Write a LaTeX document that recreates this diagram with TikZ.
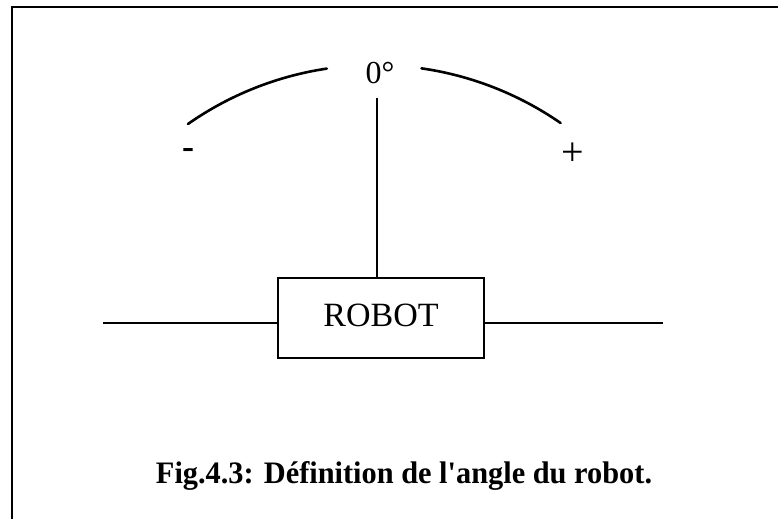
\documentclass[tikz,border=0pt]{standalone}
\usepackage{fontspec}
\setmainfont{Liberation Serif}
\newfontfamily\capfont{Liberation Serif}[Ligatures=TeXOff]
\usepackage{graphicx}
\begin{document}
\begin{tikzpicture}[x=1pt,y=-1pt,
  line/.style={line width=1.8pt},
  arcline/.style={line width=2.6pt,line cap=round},
  txt/.style={inner sep=0pt,anchor=base},
  robotbox/.style={draw,line width=1.8pt,minimum width=206pt,minimum height=80pt,inner sep=0pt}]
\useasboundingbox (0,0) rectangle (778,519);
% frame
\coordinate (fb) at (12,519);
\coordinate (fc) at (12,7);
\coordinate (fr) at (778,7);
\draw[line width=2pt] (fb) -- (fc) -- (fr);
% robot box
\node[robotbox] (robot) at (381,318) {};
\node[txt,font=\fontsize{34}{40}\selectfont] (rtext) at (381,326) {ROBOT};
% side lines
\coordinate (lA) at (103,323);
\coordinate (rA) at (663,323);
\draw[line] (lA) -- (robot.west |- lA);
\draw[line] (robot.east |- rA) -- (rA);
% vertical line
\coordinate (vt) at (377,98);
\draw[line] (vt) -- (vt |- robot.north);
% arcs (center 375,391, r 326)
\coordinate (c) at (375,391);
\draw[arcline] ([shift={(125:326 and -326)}]c) arc[start angle=125,end angle=98.5,x radius=326,y radius=-326];
\draw[arcline] ([shift={(81.8:326 and -326)}]c) arc[start angle=81.8,end angle=55.3,x radius=326,y radius=-326];
% labels
\node[txt,font=\fontsize{32}{36}\selectfont] (zero) at (380,83) {0°};
\node[txt,font=\fontsize{36}{40}\bfseries] (minus) at (188,158) {-};
\node[txt,font=\fontsize{40}{44}\selectfont] (plus) at (573,165) {+};
% caption
\node[txt] (cap) at (404,483) {\resizebox{496pt}{22pt}{\capfont\bfseries Fig.4.3: Définition de l'angle du robot.}};
\end{tikzpicture}
\end{document}
